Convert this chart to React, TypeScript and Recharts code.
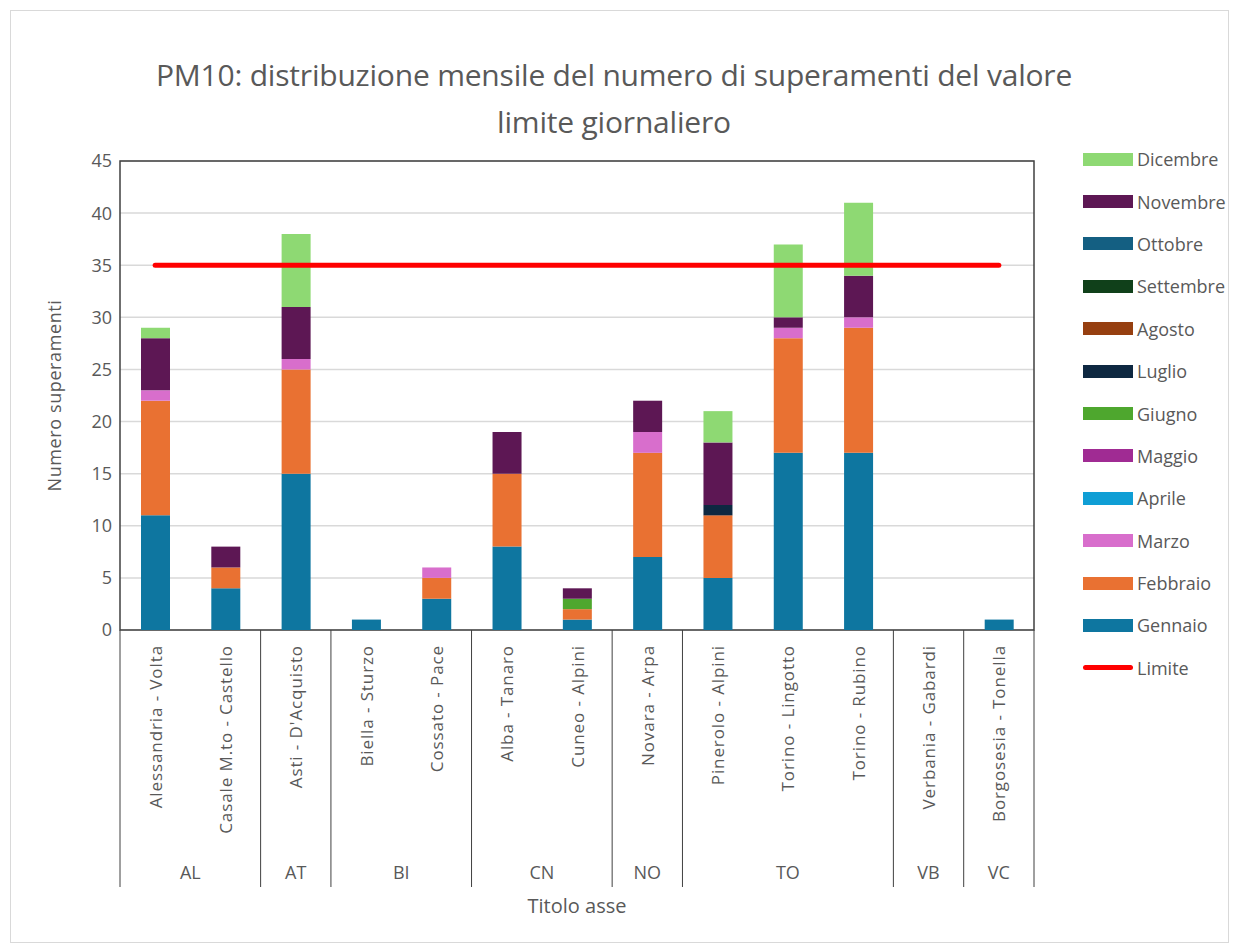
import { ComposedChart, Bar, Line, XAxis, YAxis, CartesianGrid, ReferenceArea } from 'recharts';

const stations = [
  'Alessandria - Volta', 'Casale M.to - Castello', "Asti - D'Acquisto", 'Biella - Sturzo', 'Cossato - Pace',
  'Alba - Tanaro', 'Cuneo - Alpini', 'Novara - Arpa', 'Pinerolo - Alpini', 'Torino - Lingotto',
  'Torino - Rubino', 'Verbania - Gabardi', 'Borgosesia - Tonella',
];
const provinces = ['AL', 'AL', 'AT', 'BI', 'BI', 'CN', 'CN', 'NO', 'TO', 'TO', 'TO', 'VB', 'VC'];

const gennaio = [11, 4, 15, 1, 3, 8, 1, 7, 5, 17, 17, 0, 1];
const febbraio = [11, 2, 10, 0, 2, 7, 1, 10, 6, 11, 12, 0, 0];
const marzo = [1, 0, 1, 0, 1, 0, 0, 2, 0, 1, 1, 0, 0];
const aprile = [0, 0, 0, 0, 0, 0, 0, 0, 0, 0, 0, 0, 0];
const maggio = [0, 0, 0, 0, 0, 0, 0, 0, 0, 0, 0, 0, 0];
const giugno = [0, 0, 0, 0, 0, 0, 1, 0, 0, 0, 0, 0, 0];
const luglio = [0, 0, 0, 0, 0, 0, 0, 0, 1, 0, 0, 0, 0];
const agosto = [0, 0, 0, 0, 0, 0, 0, 0, 0, 0, 0, 0, 0];
const settembre = [0, 0, 0, 0, 0, 0, 0, 0, 0, 0, 0, 0, 0];
const ottobre = [0, 0, 0, 0, 0, 0, 0, 0, 0, 0, 0, 0, 0];
const novembre = [5, 2, 5, 0, 0, 4, 1, 3, 6, 1, 4, 0, 0];
const dicembre = [1, 0, 7, 0, 0, 0, 0, 0, 3, 7, 7, 0, 0];
const limite = [35, 35, 35, 35, 35, 35, 35, 35, 35, 35, 35, 35, 35];

const yTicks = [0, 5, 10, 15, 20, 25, 30, 35, 40, 45];

const months = [
  { key: 'Gennaio', values: gennaio, color: '#0E76A0' },
  { key: 'Febbraio', values: febbraio, color: '#E97132' },
  { key: 'Marzo', values: marzo, color: '#D86ECC' },
  { key: 'Aprile', values: aprile, color: '#0F9ED5' },
  { key: 'Maggio', values: maggio, color: '#A02B93' },
  { key: 'Giugno', values: giugno, color: '#4EA72E' },
  { key: 'Luglio', values: luglio, color: '#0E2841' },
  { key: 'Agosto', values: agosto, color: '#963F10' },
  { key: 'Settembre', values: settembre, color: '#10401A' },
  { key: 'Ottobre', values: ottobre, color: '#145F82' },
  { key: 'Novembre', values: novembre, color: '#5D1754' },
  { key: 'Dicembre', values: dicembre, color: '#8ED973' },
];

const data = stations.map((s, i) => {
  const row: Record<string, string | number> = { station: s, prov: provinces[i], Limite: limite[i] };
  months.forEach((m) => { row[m.key] = m.values[i]; });
  return row;
});

const FONT = '"Open Sans", sans-serif';
const TEXT = '#595959';
const W = 1235;
const H = 947;
const PLOT_LEFT = 120;
const PLOT_RIGHT = 1034;
const STEP = (PLOT_RIGHT - PLOT_LEFT) / stations.length;
const AXIS_H = 283;

function CategoryTick(props: any) {
  const { x, y, index, payload } = props;
  const top = y - 8; // axis line position
  const prov = provinces[index];
  const isStart = index === 0 || provinces[index - 1] !== prov;
  const isLast = index === provinces.length - 1;
  let size = 0;
  if (isStart) {
    for (let j = index; j < provinces.length && provinces[j] === prov; j++) size++;
  }
  return (
    <g>
      <g transform={`translate(${x},${top + 15})`}>
        <text transform="rotate(-90)" textAnchor="end" dominantBaseline="central" fill={TEXT} fontSize={17} letterSpacing={0.9} fontFamily={FONT}>
          {payload.value}
        </text>
      </g>
      {isStart && (
        <>
          <line x1={x - STEP / 2} x2={x - STEP / 2} y1={top} y2={top + 257} stroke="#404040" strokeWidth={1} />
          <text x={x + ((size - 1) * STEP) / 2} y={top + 249} textAnchor="middle" fill={TEXT} fontSize={18} fontFamily={FONT}>
            {prov}
          </text>
        </>
      )}
      {isLast && <line x1={x + STEP / 2} x2={x + STEP / 2} y1={top} y2={top + 257} stroke="#404040" strokeWidth={1} />}
    </g>
  );
}

const legendItems = [...months].reverse();

export default function App() {
  return (
    <div style={{ position: 'absolute', left: 0, top: 0, width: W, height: H, background: '#fff', fontFamily: FONT }}>
      <div style={{ position: 'absolute', left: 10, top: 10, width: 1217, height: 931, border: '1px solid #d9d9d9' }} />
      <div style={{ position: 'absolute', left: 0, top: 51, width: 1228, textAlign: 'center', fontSize: 30, lineHeight: '47px', color: TEXT, letterSpacing: -0.2 }}>
        PM10: distribuzione mensile del numero di superamenti del valore
        <br />
        limite giornaliero
      </div>
      <div style={{ position: 'absolute', left: 0, top: 0 }}>
        <ComposedChart width={W} height={H} data={data} margin={{ top: 161, right: W - PLOT_RIGHT, left: 20, bottom: H - 630 - AXIS_H }}>
          <CartesianGrid vertical={false} stroke="#d9d9d9" strokeWidth={1.5} />
          <XAxis
            dataKey="station"
            interval={0}
            height={AXIS_H}
            axisLine={false}
            tickLine={false}
            tick={<CategoryTick />}
            label={{ value: 'Titolo asse', position: 'insideBottom', offset: 0, fill: TEXT, fontSize: 20, fontFamily: FONT }}
          />
          <YAxis
            width={100}
            domain={[0, 45]}
            ticks={yTicks}
            axisLine={false}
            tickLine={false}
            tick={{ fill: TEXT, fontSize: 18, fontFamily: FONT }}
            label={{ value: 'Numero superamenti', angle: -90, position: 'center', dx: -15, fill: TEXT, fontSize: 18, letterSpacing: 0.6, fontFamily: FONT }}
          />
          {months.map((m) => (
            <Bar key={m.key} dataKey={m.key} stackId="a" fill={m.color} barSize={29} isAnimationActive={false} />
          ))}
          <Line dataKey="Limite" stroke="#FF0000" strokeWidth={5} strokeLinecap="round" dot={false} activeDot={false} isAnimationActive={false} />
          <ReferenceArea y1={0} y2={45} fill="none" stroke="#404040" strokeWidth={1.5} />
        </ComposedChart>
      </div>
      <div style={{ position: 'absolute', left: 1083, top: 138 }}>
        {legendItems.map((m) => (
          <div key={m.key} style={{ display: 'flex', alignItems: 'center', height: 42.4 }}>
            <div style={{ width: 50, height: 13, background: m.color }} />
            <span style={{ marginLeft: 4, fontSize: 18, color: TEXT }}>{m.key}</span>
          </div>
        ))}
        <div style={{ display: 'flex', alignItems: 'center', height: 42.4 }}>
          <div style={{ width: 50, height: 5, background: '#FF0000', borderRadius: 3 }} />
          <span style={{ marginLeft: 4, fontSize: 18, color: TEXT }}>Limite</span>
        </div>
      </div>
    </div>
  );
}
